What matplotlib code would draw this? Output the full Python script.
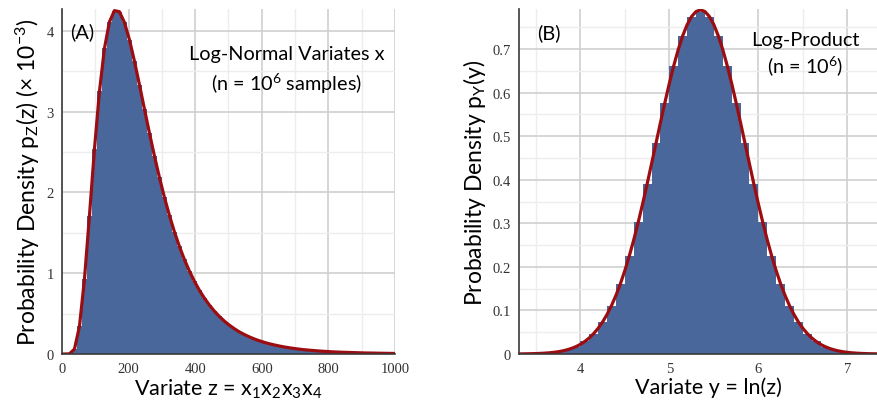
import numpy as np
import matplotlib
matplotlib.use("Agg")
import matplotlib.pyplot as plt
from matplotlib.ticker import MultipleLocator, FixedLocator, FixedFormatter

plt.rcParams["font.family"] = ["Lato", "DejaVu Sans"]
plt.rcParams["mathtext.fontset"] = "custom"
plt.rcParams["mathtext.rm"] = "Lato"
plt.rcParams["mathtext.it"] = "Lato:italic"

# (A) histogram of z = x1 x2 x3 x4, bin width 15, density in units of 1e-3
z_bin_width = 15
z_density = [0.000, 0.002, 0.061, 0.342, 0.925, 1.711, 2.533, 3.249, 3.781, 4.110,
             4.250, 4.236, 4.103, 3.890, 3.625, 3.333, 3.033, 2.736, 2.452, 2.186,
             1.940, 1.716, 1.513, 1.332, 1.170, 1.027, 0.901, 0.789, 0.692, 0.606,
             0.531, 0.465, 0.407, 0.357, 0.313, 0.274, 0.241, 0.212, 0.186, 0.164,
             0.144, 0.127, 0.112, 0.099, 0.087, 0.077, 0.068, 0.060, 0.053, 0.047,
             0.042, 0.037, 0.033, 0.029, 0.026, 0.023, 0.021, 0.019, 0.017, 0.015,
             0.013, 0.012, 0.011, 0.0095, 0.0086, 0.0077, 0.0069]

# (B) histogram of y = ln(z), bin width 0.1 starting at 3.3
y_bin_start = 3.3
y_bin_width = 0.1
y_density = [0.0003, 0.0007, 0.0014, 0.0027, 0.0052, 0.0096, 0.0169, 0.0288, 0.0469, 0.0736,
             0.1112, 0.1614, 0.2252, 0.3022, 0.3900, 0.4840, 0.5773, 0.6622, 0.7304, 0.7747,
             0.7860,
             0.7747, 0.7304, 0.6622, 0.5773, 0.4840, 0.3900, 0.3022, 0.2252, 0.1614, 0.1112,
             0.0736, 0.0469, 0.0288, 0.0169, 0.0096, 0.0052, 0.0027, 0.0014, 0.0007, 0.0003]

# (B) fitted normal curve, sampled every 0.05 from 3.30
y_curve_start = 3.30
y_curve_step = 0.05
y_curve = [0.0002, 0.0003, 0.0005, 0.0007, 0.0010, 0.0014, 0.0020, 0.0027, 0.0038, 0.0052,
           0.0071, 0.0096, 0.0128, 0.0169, 0.0221, 0.0288, 0.0369, 0.0469, 0.0591, 0.0736,
           0.0909, 0.1112, 0.1346, 0.1614, 0.1916, 0.2252, 0.2622, 0.3022, 0.3451, 0.3900,
           0.4366, 0.4840, 0.5311, 0.5773, 0.6214, 0.6622, 0.6989, 0.7304, 0.7559, 0.7747,
           0.7861, 0.7900,
           0.7861, 0.7747, 0.7559, 0.7304, 0.6989, 0.6622, 0.6214, 0.5773, 0.5311, 0.4840,
           0.4366, 0.3900, 0.3451, 0.3022, 0.2622, 0.2252, 0.1916, 0.1614, 0.1346, 0.1112,
           0.0909, 0.0736, 0.0591, 0.0469, 0.0369, 0.0288, 0.0221, 0.0169, 0.0128, 0.0096,
           0.0071, 0.0052, 0.0038, 0.0027, 0.0020, 0.0014, 0.0010, 0.0007, 0.0005, 0.0003,
           0.0002, 0.0001, 0.0001, 0.0000, 0.0000]

y_tick_labels_b = ["0", "0.1", "0.2", "0.3", "0.4", "0.5", "0.6", "0.7"]

bar_color = "#4a679c"
line_color = "#9c0d12"
tick_font = dict(family="Liberation Serif", size=10.5, color="#333333")


def style_axes(ax):
    for s in ["top", "right"]:
        ax.spines[s].set_visible(False)
    for s in ["left", "bottom"]:
        ax.spines[s].set_color("#3a3a3a")
        ax.spines[s].set_linewidth(1.2)
    ax.set_axisbelow(True)
    ax.grid(which="major", color="#cfcfcf", linewidth=1.2)
    ax.grid(which="minor", color="#ededed", linewidth=1.0)
    ax.tick_params(which="both", length=0)
    ax.tick_params(axis="y", pad=6)
    ax.tick_params(axis="x", pad=6)
    for lab in ax.get_xticklabels() + ax.get_yticklabels():
        lab.set_fontfamily(tick_font["family"])
        lab.set_fontsize(tick_font["size"])
        lab.set_color(tick_font["color"])


fig = plt.figure(figsize=(8.78, 4.06), dpi=100)

# ---- panel A
ax1 = fig.add_axes([0.0706, 0.1256, 0.3793, 0.8498])
z_edges = np.arange(len(z_density) + 1) * z_bin_width
z_centers = z_edges[:-1] + z_bin_width / 2
ax1.stairs(z_density, z_edges, fill=True, color=bar_color, linewidth=0)
ax1.plot(np.r_[0, z_centers], np.r_[0, z_density], color=line_color, linewidth=2.3,
         solid_capstyle="round", solid_joinstyle="round")
ax1.set_xlim(0, 1000)
ax1.set_ylim(0, 4.27)
ax1.xaxis.set_major_locator(MultipleLocator(200))
ax1.xaxis.set_minor_locator(MultipleLocator(100))
ax1.yaxis.set_major_locator(MultipleLocator(1))
ax1.yaxis.set_minor_locator(MultipleLocator(0.5))
style_axes(ax1)
ax1.set_xlabel("Variate z = x$_1$x$_2$x$_3$x$_4$", fontsize=15.5, labelpad=1)
ax1.set_ylabel("Probability Density p$_\\mathrm{Z}$(z) (× 10$^{-3}$)", fontsize=16.5, labelpad=3)
ax1.text(60, 4.0, "(A)", fontsize=14.5, ha="center", va="center")
ax1.text(674, 3.72, "Log-Normal Variates x", fontsize=14.3, ha="center", va="center")
ax1.text(674, 3.36, "(n = 10$^6$ samples)", fontsize=14.3, ha="center", va="center")

# ---- panel B
ax2 = fig.add_axes([0.5911, 0.1256, 0.4317, 0.8498])
y_edges = y_bin_start + np.arange(len(y_density) + 1) * y_bin_width
ax2.stairs(y_density, y_edges, fill=True, color=bar_color, linewidth=0)
y_curve_x = y_curve_start + np.arange(len(y_curve)) * y_curve_step
ax2.plot(y_curve_x, y_curve, color=line_color, linewidth=2.3,
         solid_capstyle="round", solid_joinstyle="round")
ax2.set_xlim(3.31, 7.57)
ax2.set_ylim(0, 0.792)
ax2.xaxis.set_major_locator(MultipleLocator(1))
ax2.xaxis.set_minor_locator(MultipleLocator(0.5))
ax2.yaxis.set_major_locator(FixedLocator([i / 10 for i in range(len(y_tick_labels_b))]))
ax2.yaxis.set_major_formatter(FixedFormatter(y_tick_labels_b))
ax2.yaxis.set_minor_locator(MultipleLocator(0.05))
style_axes(ax2)
ax2.set_xlabel("Variate y = ln(z)", fontsize=15.5, labelpad=1)
ax2.set_ylabel("Probability Density p$_\\mathrm{Y}$(y)", fontsize=16.5, labelpad=3)
ax2.text(3.647, 0.738, "(B)", fontsize=14.5, ha="center", va="center")
ax2.text(6.53, 0.722, "Log-Product", fontsize=14.3, ha="center", va="center")
ax2.text(6.53, 0.663, "(n = 10$^6$)", fontsize=14.3, ha="center", va="center")

fig.savefig("out.png", dpi=100)
